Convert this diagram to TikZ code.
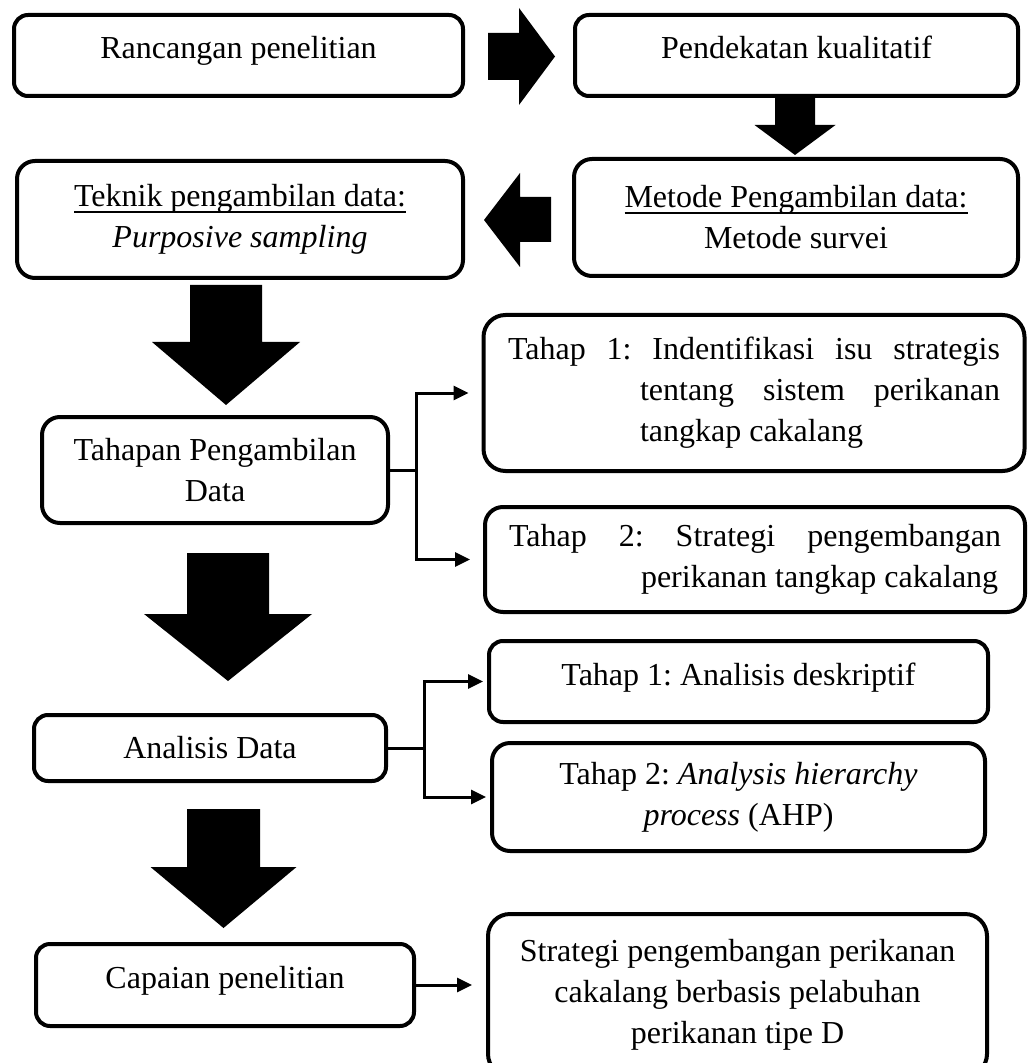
\documentclass[tikz,border=0pt]{standalone}
\usepackage{fontspec}
\setmainfont{Liberation Serif}
\usetikzlibrary{arrows.meta}
\frenchspacing

\tikzset{
  box/.style={draw, line width=2pt, rounded corners=7pt, align=center, inner sep=0pt,
    font=\fontsize{16}{20.5}\selectfont,
    execute at begin node={\spaceskip=0pt\xspaceskip=0pt\relax}},
  oneline/.style={text height=11pt, text depth=7.5pt},
  conn/.style={line width=1.5pt, -{Triangle[length=7.5pt,width=7pt]}},
}

% underline that runs through the descenders
\newsavebox{\ulbox}
\newcommand{\ulword}[1]{\sbox{\ulbox}{#1}\mbox{\usebox{\ulbox}\llap{\rule[-3pt]{\wd\ulbox}{0.8pt}}}}

% big filled arrow pointing down: x, half shaft, half head, top, head base, tip
\newcommand{\blockdown}[6]{%
  \fill ({#1-#2},#4) -- ({#1+#2},#4) -- ({#1+#2},#5) -- ({#1+#3},#5)
    -- (#1,#6) -- ({#1-#3},#5) -- ({#1-#2},#5) -- cycle;}

\begin{document}
\begin{tikzpicture}[x=0.5pt, y=-0.5pt]
    \useasboundingbox (0,0) rectangle (1027,1063);
    \clip (0,0) rectangle (1027,1063);

    % Top row
    \node[box, oneline, minimum width=224.5pt, minimum height=40.5pt] (rancang) at (238.5,55.5) {Rancangan penelitian};
    \node[box, oneline, minimum width=221.5pt, minimum height=40.5pt] (pendekat) at (796.5,55.5) {Pendekatan kualitatif};
    \node[box, rounded corners=9pt, minimum width=222pt, minimum height=58.5pt] (metode) at (796,217.5)
        {\ulword{Metode Pengambilan data:}\\Metode survei};
    \node[box, rounded corners=9pt, minimum width=223pt, minimum height=58.5pt] (teknik) at (240,219.5)
        {\ulword{Teknik pengambilan data:}\\\textit{Purposive sampling}};

    % Tahapan pengambilan data
    \node[box, rounded corners=9pt, minimum width=173pt, minimum height=53pt] (tahapan) at (215,470)
        {Tahapan Pengambilan\\Data};
    \node[box, rounded corners=11pt, align=left, text width=246pt, minimum width=270.5pt, minimum height=78pt]
        (tahap1) at (754,393)
        {\makebox[246pt][s]{Tahap 1: Indentifikasi isu strategis}\\
         \hspace*{66pt}\makebox[180pt][s]{tentang sistem perikanan}\\
         \hspace*{66pt}tangkap cakalang};
    \node[box, rounded corners=9pt, align=left, text width=246pt, minimum width=270pt, minimum height=52.5pt]
        (tahap2) at (755,559.5)
        {\makebox[246pt][s]{Tahap 2: Strategi pengembangan}\\
         \hspace*{66pt}perikanan tangkap cakalang};

    % Analisis data
    \node[box, minimum width=176pt, minimum height=33pt] (analisis) at (210,748) {Analisis Data};
    \node[box, oneline, minimum width=249.5pt, minimum height=40.5pt] (deskrip) at (738.5,681.5) {Tahap 1: Analisis deskriptif};
    \node[box, rounded corners=9pt, minimum width=246.5pt, minimum height=54pt] (ahp) at (738.5,797)
        {Tahap 2: \textit{Analysis hierarchy}\\\textit{process} (AHP)};

    % Capaian
    \node[box, oneline, minimum width=189pt, minimum height=41pt] (capaian) at (225,985) {Capaian penelitian};
    \node[box, rounded corners=11pt, minimum width=249.5pt, minimum height=81pt] (hasil) at (737.5,995)
        {Strategi pengembangan perikanan\\cakalang berbasis pelabuhan\\perikanan tipe D};

    % Block arrows
    \fill (488,33) -- (519,33) -- (519,8) -- (555,56.5) -- (519,105) -- (519,80) -- (488,80) -- cycle;
    \blockdown{795}{20}{40.5}{98}{125}{155}
    \fill (551,197) -- (520,197) -- (520,173) -- (484,220) -- (520,267) -- (520,242) -- (551,242) -- cycle;
    \blockdown{226}{36}{74}{285}{342}{405}
    \blockdown{228}{41}{84}{553}{614}{681}
    \blockdown{223.5}{36.5}{73}{809}{867}{928}

    % Branch connectors
    \draw[line width=1.5pt] (tahapan.east) -- ++(26,0) coordinate (jtahap);
    \draw[conn, shorten >=6.5pt] (jtahap) |- (tahap1.west);
    \draw[conn, shorten >=6.5pt] (jtahap) |- (tahap2.west);
    \draw[line width=1.5pt] (analisis.east) -- ++(36,0) coordinate (janalisis);
    \draw[conn, shorten >=2pt] (janalisis) |- (deskrip.west);
    \draw[conn, shorten >=2pt] (janalisis) |- (ahp.west);
    \draw[conn, shorten >=7pt] (capaian.east) -- (capaian.east -| hasil.west);

\end{tikzpicture}
\end{document}
